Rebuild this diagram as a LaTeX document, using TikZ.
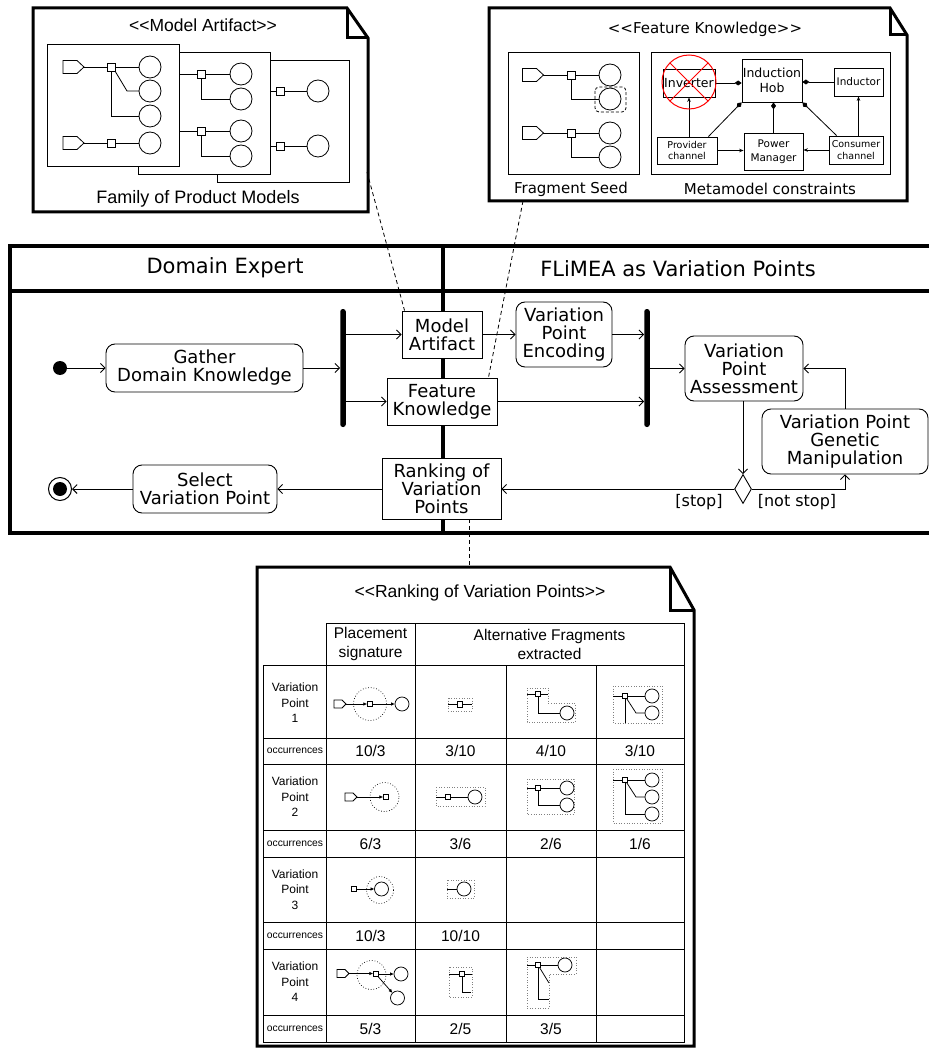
\documentclass[tikz,border=0pt]{standalone}
\usepackage{fontspec}
\setmainfont{Liberation Sans}
\newfontfamily\dvf{DejaVu Sans}
\usetikzlibrary{arrows.meta,shapes.geometric,calc}
\newcommand\myfs[2]{\fontsize{#1}{#2}\selectfont}
\newcommand\dlt{<\kern0pt<}
\newcommand\dgt{>\kern0pt>}
\tikzset{
 pool/.style={line width=3.5pt},
 note/.style={line width=3pt, line join=miter},
 act/.style={draw, line width=0.9pt, rounded corners=9pt, fill=white, align=center, inner sep=0pt, font=\dvf\myfs{18}{18}},
 obj/.style={draw, line width=0.9pt, fill=white, align=center, inner sep=0pt, font=\dvf\myfs{18}{18}},
 flow/.style={line width=0.9pt, -{Straight Barb[length=4.5pt,width=9pt]}},
 forkbar/.style={fill=black, rounded corners=2.5pt, inner sep=0pt, minimum width=5.5pt, minimum height=118pt},
 dashlink/.style={dashed, dash pattern=on 4pt off 3pt, line width=0.8pt},
 mm/.style={draw, line width=0.8pt, align=center, inner sep=0pt},
 comp/.style={line width=0.8pt, -{Diamond[length=7pt,width=5pt]}},
 sarr/.style={line width=0.8pt, -{Stealth[length=4.5pt,width=3.5pt]}},
 wire/.style={line width=0.8pt},
 tw/.style={line width=0.75pt},
 tarr/.style={line width=0.75pt, -{Latex[length=4pt,width=3.5pt]}},
 dotbox/.style={draw=gray, dotted, line width=0.6pt},
 dotring/.style={draw=black, dotted, line width=0.7pt},
 tline/.style={line width=0.9pt},
 port/.pic={\draw[wire,fill=white] (-10.5,-6.5) -- (3.5,-6.5) -- (10.5,0) -- (3.5,6.5) -- (-10.5,6.5) -- cycle;},
 sq/.pic={\draw[wire,fill=white] (-4,-4) rectangle (4,4);},
 cir/.pic={\draw[wire,fill=white] (0,0) circle (11pt);},
 tport/.pic={\draw[tw,fill=white] (-6,-4) -- (2,-4) -- (6,0) -- (2,4) -- (-6,4) -- cycle;},
 tsq/.pic={\draw[tw,fill=white] (-2.75,-2.75) rectangle (2.75,2.75);},
 tcir/.pic={\draw[tw,fill=white] (0,0) circle (7pt);},
}
\begin{document}
\begin{tikzpicture}[x=1pt,y=-1pt]
\useasboundingbox (0,0) rectangle (929,1048);

% ---------------- Model Artifact note
\draw[note, fill=white] (33,8) -- (347,8) -- (368,38) -- (368,212) -- (33,212) -- cycle;
\draw[note] (347,8) -- (347,38) -- (368,38);
\node[font=\myfs{17.5}{18}] (maTitle) at (203,25) {\dlt Model Artifact\dgt};
\node[font=\myfs{18}{18}] (maCap) at (198,199) {Family of Product Models};
\draw[wire, fill=white] (217,60) rectangle (349,182);
\draw[wire, fill=white] (138,52) rectangle (270,174);
\draw[wire, fill=white] (47,44) rectangle (179,166);
% box1
\draw[wire] (84,67) -- (139,67);
\draw[wire] (115,71) -- (127,91) -- (139,91);
\draw[wire] (111,71) -- (111,116) -- (139,116);
\draw[wire] (84,143) -- (139,143);
\pic at (73.5,67) {port}; \pic at (111,67) {sq}; \pic at (150,67) {cir};
\pic at (150,91) {cir}; \pic at (150,116) {cir};
\pic at (73.5,143) {port}; \pic at (111,143) {sq}; \pic at (150,143) {cir};
% box2
\draw[wire] (179,74) -- (230,74);
\draw[wire] (201,78) -- (201,99) -- (230,99);
\draw[wire] (179,131) -- (230,131);
\draw[wire] (201,135) -- (201,156) -- (230,156);
\pic at (201,74) {sq}; \pic at (241,74) {cir}; \pic at (241,99) {cir};
\pic at (201,131) {sq}; \pic at (241,131) {cir}; \pic at (241,156) {cir};
% box3
\draw[wire] (270,91) -- (307,91);
\draw[wire] (270,146) -- (307,146);
\pic at (280,91) {sq}; \pic at (318,91) {cir};
\pic at (280,146) {sq}; \pic at (318,146) {cir};

% ---------------- Feature Knowledge note
\draw[note, fill=white] (489,8) -- (890,8) -- (907,35) -- (907,201) -- (489,201) -- cycle;
\draw[note] (890,8) -- (890,35) -- (907,35);
\node[font=\dvf\myfs{15}{15}] (fkTitle) at (705,29) {\dlt Feature Knowledge\dgt};
\draw[wire] (508,52) rectangle (639,174);
\draw[wire] (651,52) rectangle (890,174);
\node[font=\dvf\myfs{15}{15}] (seedCap) at (571,189) {Fragment Seed};
\node[font=\dvf\myfs{15}{15}] (mmCap) at (770,189) {Metamodel constraints};
% fragment seed
\draw[wire] (543,75) -- (599,75);
\draw[wire] (571,79) -- (571,99) -- (599,99);
\draw[wire] (543,133) -- (599,133);
\draw[wire] (571,137) -- (571,157) -- (599,157);
\pic at (533,75) {port}; \pic at (571,75) {sq}; \pic at (610,75) {cir}; \pic at (610,99) {cir};
\pic at (533,133) {port}; \pic at (571,133) {sq}; \pic at (610,133) {cir}; \pic at (610,157) {cir};
\draw[wire, dashed, dash pattern=on 3pt off 2pt, rounded corners=4pt] (595,87) rectangle (626,112);
% metamodel
\node[mm, minimum width=52pt, minimum height=28pt, font=\dvf\myfs{12.5}{14}] (inv) at (689,83) {Inverter};
\node[mm, minimum width=60pt, minimum height=43pt, font=\dvf\myfs{12.5}{15}] (hob) at (772,80.5) {Induction\\Hob};
\node[mm, minimum width=49pt, minimum height=28pt, font=\dvf\myfs{10.5}{12}] (ind) at (858.5,82) {Inductor};
\node[mm, minimum width=60pt, minimum height=27pt, font=\dvf\myfs{9.5}{11.5}] (prov) at (687,150.5) {Provider\\channel};
\node[mm, minimum width=59pt, minimum height=37pt, font=\dvf\myfs{10.5}{14}] (pm) at (773.5,151.5) {Power\\Manager};
\node[mm, minimum width=54pt, minimum height=28pt, font=\dvf\myfs{9.5}{11.5}] (cons) at (856,150) {Consumer\\channel};
\draw[comp] (inv.east) -- (inv.east -| hob.west);
\draw[comp] (ind.west) -- (ind.west -| hob.east);
\draw[comp] ([xshift=-9pt]prov.north east) -- (hob.south west);
\draw[comp] (pm.north) -- (pm.north |- hob.south);
\draw[comp] ([xshift=8pt]cons.north west) -- (hob.south east);
\draw[sarr] (inv.south |- prov.north) -- (inv.south);
\draw[sarr] (ind.south |- cons.north) -- (ind.south);
\draw[sarr] (prov.east) -- (prov.east -| pm.west);
\draw[sarr] (cons.west) -- (cons.west -| pm.east);
\draw[red, line width=1pt] (689,82) circle (27pt);
\draw[red, line width=1pt] (670,63) -- (708,101) (670,101) -- (708,63);

% ---------------- swimlanes
\draw[pool] (929,246) -- (10,246) -- (10,533) -- (929,533);
\draw[pool] (10,291) -- (929,291);
\draw[pool] (443,246) -- (443,533);
\node[font=\dvf\myfs{21}{21}] (lane1) at (225,268) {Domain Expert};
\node[font=\dvf\myfs{21}{21}] (lane2) at (678,269) {FLiMEA as Variation Points};

\node[circle, fill, inner sep=0pt, minimum size=14pt] (init) at (60,368) {};
\node[act, minimum width=197pt, minimum height=48pt] (gather) at (204.5,368) {Gather\\Domain Knowledge};
\node[forkbar] (fork1) at (343,368) {};
\node[obj, minimum width=80pt, minimum height=47pt] (ma) at (442,334.5) {Model\\Artifact};
\node[obj, minimum width=110pt, minimum height=47pt] (fk) at (442,401.5) {Feature\\Knowledge};
\node[obj, minimum width=119pt, minimum height=61pt] (rank) at (441.5,488.5) {Ranking of\\Variation\\Points};
\node[act, minimum width=144pt, minimum height=48pt] (select) at (205,489) {Select\\Variation Point};
\node[circle, draw, line width=1pt, inner sep=0pt, minimum size=23pt] (final) at (60,489) {};
\fill (final.center) circle (7pt);
\node[act, minimum width=96pt, minimum height=65pt] (enc) at (564,334.5) {Variation\\Point\\Encoding};
\node[forkbar] (fork2) at (647,368) {};
\node[act, minimum width=118pt, minimum height=65pt] (assess) at (744,368.5) {Variation\\Point\\Assessment};
\node[diamond, draw, line width=0.9pt, fill=white, inner sep=0pt, minimum width=17pt, minimum height=29pt] (dec) at (743,489) {};
\node[act, minimum width=166pt, minimum height=65pt] (gen) at (845,441.5) {Variation Point\\Genetic\\Manipulation};

\draw[flow] (init) -- (gather);
\draw[flow] (gather) -- (fork1);
\draw[flow] (fork1.east |- ma.west) -- (ma.west);
\draw[flow] (fork1.east |- fk.west) -- (fk.west);
\draw[flow] (ma) -- (enc);
\draw[flow] (enc.east) -- (enc.east -| fork2.west);
\draw[flow] (fk.east) -- (fk.east -| fork2.west);
\draw[flow] (fork2.east |- assess.west) -- (assess.west);
\draw[flow] (dec.north |- assess.south) -- (dec.north);
\draw[flow] (dec.west) -- (dec.west -| rank.east);
\draw[flow] (dec.east) -| (gen.south);
\draw[flow] (gen.north) |- (assess.east);
\draw[flow] (rank.west |- select.east) -- (select.east);
\draw[flow] (select) -- (final);
\node[font=\dvf\myfs{16}{16}] (stopL) at (699,502) {[stop]};
\node[font=\dvf\myfs{16}{16}] (notstopL) at (797,502) {[not stop]};

% dashed note links
\coordinate (maNote) at (367,172);
\draw[dashlink] (maNote) -- ([xshift=3pt]ma.north west);
\coordinate (fkNote) at (523,201);
\draw[dashlink] (fkNote) -- ([xshift=-9pt]fk.north east);
\coordinate (rkNote) at (469,567);
\draw[dashlink] (rank.south -| rkNote) -- (rkNote);

% ---------------- Ranking note
\draw[note, fill=white] (257,567) -- (670,567) -- (694,610) -- (694,1046) -- (257,1046) -- cycle;
\draw[note] (670,567) -- (670,610) -- (694,610);
\node[font=\myfs{17.5}{18}] (rkTitle) at (480,593) {\dlt Ranking of Variation Points\dgt};

\draw[tline] (326,623) rectangle (684,665);
\draw[tline] (415,623) -- (415,665);
\draw[tline] (263,665) rectangle (684,1042);
\foreach \x in {326,415,506,596} \draw[tline] (\x,665) -- (\x,1042);
\foreach \y in {738,764,830,857,922,949,1015} \draw[tline] (263,\y) -- (684,\y);
\node[font=\myfs{15.5}{19}, align=center] (hPl) at (370.5,644) {Placement\\signature};
\node[font=\myfs{15.5}{19}, align=center] (hAlt) at (549.5,644) {Alternative Fragments\\extracted};
\foreach \n/\yc/\yo in {1/703/751,2/797/843.5,3/889.5/935.5,4/982/1028.5}{
  \node[font=\myfs{12}{15.5}, align=center] (vp\n) at (295,\yc) {Variation\\Point\\\n};
  \node[font=\myfs{10.3}{11}] (occ\n) at (295,\yo) {occurrences};
}
\node[font=\myfs{15.5}{16}] (n11) at (370.5,751) {10/3};
\node[font=\myfs{15.5}{16}] (n12) at (460.5,751) {3/10};
\node[font=\myfs{15.5}{16}] (n13) at (551,751) {4/10};
\node[font=\myfs{15.5}{16}] (n14) at (640,751) {3/10};
\node[font=\myfs{15.5}{16}] (n21) at (370.5,843.5) {6/3};
\node[font=\myfs{15.5}{16}] (n22) at (460.5,843.5) {3/6};
\node[font=\myfs{15.5}{16}] (n23) at (551,843.5) {2/6};
\node[font=\myfs{15.5}{16}] (n24) at (640,843.5) {1/6};
\node[font=\myfs{15.5}{16}] (n31) at (370.5,935.5) {10/3};
\node[font=\myfs{15.5}{16}] (n32) at (460.5,935.5) {10/10};
\node[font=\myfs{15.5}{16}] (n41) at (370.5,1028.5) {5/3};
\node[font=\myfs{15.5}{16}] (n42) at (460.5,1028.5) {2/5};
\node[font=\myfs{15.5}{16}] (n43) at (551,1028.5) {3/5};

% VP1
\draw[dotring] (370,704) circle (16.5pt);
\draw[tarr] (346,704) -- (367.25,704);
\draw[tarr] (372.75,704) -- (395,704);
\pic at (340,704) {tport}; \pic at (370,704) {tsq}; \pic at (402,704) {tcir};
\draw[dotbox] (448,698) rectangle (472,711);
\draw[tw] (448,704.5) -- (472,704.5);
\pic at (460,704.5) {tsq};
\draw[dotbox] (527,688) -- (548,688) -- (548,703) -- (575,703) -- (575,722) -- (527,722) -- cycle;
\draw[tw] (527,694) -- (548,694);
\draw[tw] (538,694) -- (538,713) -- (560,713);
\pic at (538,694) {tsq}; \pic at (567,713) {tcir};
\draw[dotbox] (613,686) rectangle (662,723);
\draw[tw] (613,696) -- (645,696);
\draw[tw] (625,696) -- (625,723);
\draw[tw] (625,696) -- (636,713) -- (645,713);
\pic at (625,696) {tsq}; \pic at (652,696) {tcir}; \pic at (652,713) {tcir};
% VP2
\draw[dotring] (384.5,797) circle (14.5pt);
\draw[tarr] (357,797) -- (383.25,797);
\pic at (351,797) {tport}; \pic at (386,797) {tsq};
\draw[dotbox] (436,787) rectangle (485,806);
\draw[tw] (436,797) -- (468,797);
\pic at (448,797) {tsq}; \pic at (475,797) {tcir};
\draw[dotbox] (527,779) rectangle (574,814);
\draw[tw] (527,788) -- (560,788);
\draw[tw] (538,788) -- (538,805) -- (560,805);
\pic at (538,788) {tsq}; \pic at (567,788) {tcir}; \pic at (567,805) {tcir};
\draw[dotbox] (613,769) rectangle (662,823);
\draw[tw] (613,780) -- (645,780);
\draw[tw] (625,780) -- (636,797) -- (645,797);
\draw[tw] (625,780) -- (625,814) -- (645,814);
\pic at (625,780) {tsq}; \pic at (652,780) {tcir}; \pic at (652,797) {tcir}; \pic at (652,814) {tcir};
% VP3
\draw[dotring] (380,890) circle (13.5pt);
\draw[tarr] (356.75,889) -- (374.5,889);
\pic at (354,889) {tsq}; \pic at (381.5,889) {tcir};
\draw[dotbox] (447,880) rectangle (474,898);
\draw[tw] (447,889) -- (457,889);
\pic at (464,889) {tcir};
% VP4
\draw[dotring] (371.5,975) circle (14.5pt);
\draw[tarr] (349,973.5) -- (373.25,973.5);
\draw[tarr] (378.75,974) -- (394,974);
\draw[tarr] (378,976.5) -- (392.5,993);
\pic at (343,973.5) {tport}; \pic at (376,974) {tsq}; \pic at (401,974) {tcir}; \pic at (397.5,998) {tcir};
\draw[dotbox] (449,967) rectangle (472,997);
\draw[tw] (449,974) -- (472,974);
\draw[tw] (462,974) -- (462,992) -- (471,992);
\pic at (462,974) {tsq};
\draw[dotbox] (527,957) -- (576,957) -- (576,974) -- (549,974) -- (549,1008) -- (527,1008) -- cycle;
\draw[tw] (527,965) -- (558,965);
\draw[tw] (538,965) -- (549,983);
\draw[tw] (538,965) -- (538,999) -- (549,999);
\pic at (538,965) {tsq}; \pic at (565,965) {tcir};
\end{tikzpicture}
\end{document}
